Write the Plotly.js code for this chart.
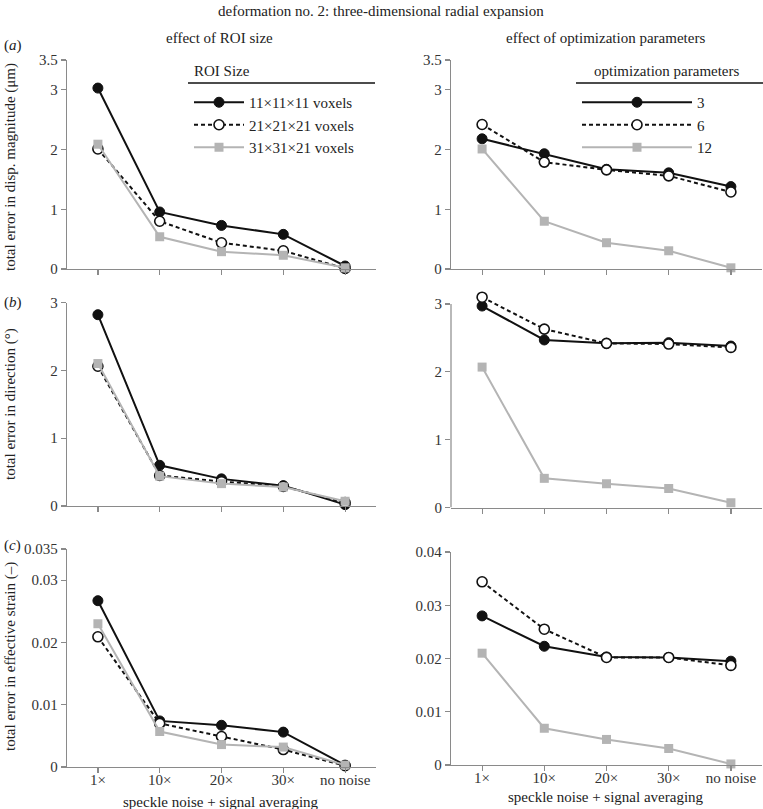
<!DOCTYPE html>
<html>
<head>
<meta charset="utf-8">
<script src="https://cdn.plot.ly/plotly-3.0.1.min.js"></script>
<style>html,body{margin:0;padding:0;background:#fff;}#chart{width:763px;height:809px;}</style>
</head>
<body>
<div id="chart"></div>
<script>
// ---- data ----
const categories = ["1×", "10×", "20×", "30×", "no noise"];

const roiNames = ["11×11×11 voxels", "21×21×21 voxels", "31×31×21 voxels"];
const optNames = ["3", "6", "12"];

// (a) total error in displacement magnitude (µm)
const roiA_11 = [3.03, 0.955, 0.73, 0.58, 0.05];
const roiA_21 = [2.01, 0.80, 0.44, 0.305, 0.01];
const roiA_31 = [2.09, 0.54, 0.29, 0.23, 0.02];
const optA_3  = [2.18, 1.93, 1.67, 1.61, 1.38];
const optA_6  = [2.42, 1.79, 1.66, 1.56, 1.29];
const optA_12 = [2.01, 0.80, 0.44, 0.305, 0.02];

// (b) total error in direction (deg)
const roiB_11 = [2.82, 0.60, 0.40, 0.30, 0.02];
const roiB_21 = [2.06, 0.45, 0.36, 0.29, 0.05];
const roiB_31 = [2.10, 0.44, 0.33, 0.28, 0.07];
const optB_3  = [2.97, 2.47, 2.42, 2.43, 2.38];
const optB_6  = [3.10, 2.63, 2.42, 2.41, 2.36];
const optB_12 = [2.07, 0.43, 0.35, 0.28, 0.07];

// (c) total error in effective strain (-)
const roiC_11 = [0.0267, 0.0074, 0.0067, 0.0056, 0.0003];
const roiC_21 = [0.0209, 0.0070, 0.0049, 0.0028, 0.0002];
const roiC_31 = [0.0230, 0.0057, 0.0036, 0.0032, 0.0003];
const optC_3  = [0.0280, 0.0223, 0.0203, 0.0202, 0.0195];
const optC_6  = [0.0344, 0.0255, 0.0202, 0.0202, 0.0187];
const optC_12 = [0.0210, 0.0069, 0.0048, 0.0031, 0.0002];

// ---- styles ----
const FONT = "Liberation Serif";
const GREY = "#b4b4b4";
const AX = "#8a8a8a";
const W = 763, H = 809;
const px = v => v / W;
const py = v => 1 - v / H;

const styles = [
  {line: {color: "#111", width: 2}, marker: {symbol: "circle", size: 10, color: "#111", line: {color: "#111", width: 1}}},
  {line: {color: "#111", width: 2, dash: "4px,3px"}, marker: {symbol: "circle", size: 10, color: "#fff", line: {color: "#111", width: 1.6}}},
  {line: {color: GREY, width: 2}, marker: {symbol: "square", size: 9, color: GREY, line: {width: 0}}}
];

function series(xa, ya, ys, names, legend, show) {
  return ys.map((y, i) => ({
    type: "scatter", mode: "lines+markers",
    x: categories, y: y, xaxis: xa, yaxis: ya,
    name: names[i], legend: legend, showlegend: show,
    line: styles[i].line, marker: styles[i].marker,
    cliponaxis: false
  }));
}

const data = [].concat(
  series("x", "y", [roiA_11, roiA_21, roiA_31], roiNames, "legend", true),
  series("x2", "y2", [optA_3, optA_6, optA_12], optNames, "legend2", true),
  series("x3", "y3", [roiB_11, roiB_21, roiB_31], roiNames, "legend", false),
  series("x4", "y4", [optB_3, optB_6, optB_12], optNames, "legend2", false),
  series("x5", "y5", [roiC_11, roiC_21, roiC_31], roiNames, "legend", false),
  series("x6", "y6", [optC_3, optC_6, optC_12], optNames, "legend2", false)
);

const tickfont = {family: FONT, size: 15, color: "#333"};
function xax(dom, anchor, labels) {
  return {
    domain: dom, anchor: anchor, type: "category", range: [-0.5, 4.5],
    showline: true, linecolor: AX, linewidth: 1.2, ticks: "outside", ticklen: 5, tickcolor: AX, tickwidth: 1.2,
    showgrid: false, zeroline: false, showticklabels: labels, tickfont: tickfont, fixedrange: true,
    ticklabelstandoff: -6
  };
}
function yax(dom, anchor, range, tickvals, showline) {
  return {
    domain: dom, anchor: anchor, range: range, tickvals: tickvals,
    showline: showline, linecolor: AX, linewidth: 1.2, ticks: "outside", ticklen: 5, tickcolor: AX, tickwidth: 1.2,
    showgrid: false, zeroline: false, tickfont: tickfont, fixedrange: true
  };
}

const xL = [px(67), px(376)], xR = [px(451), px(762)];
// row b right: range extended to 3.15 so the top point stays visible; axis line drawn only to 3
const bRtop = 304 - (507.5 - 304) * 0.15 / 3;

function ann(text, x, y, extra) {
  return Object.assign({text: text, x: px(x), y: py(y), xref: "paper", yref: "paper",
    xanchor: "center", yanchor: "middle", showarrow: false,
    font: {family: FONT, size: 15, color: "#222"}}, extra || {});
}

const layout = {
  width: W, height: H,
  margin: {l: 0, r: 0, t: 0, b: 0},
  paper_bgcolor: "#fff", plot_bgcolor: "rgba(0,0,0,0)",
  font: {family: FONT, size: 15, color: "#222"},
  xaxis:  xax(xL, "y", false),
  yaxis:  yax([py(269), py(60)], "x", [0, 3.5], [0, 1, 2, 3, 3.5], true),
  xaxis2: xax(xR, "y2", false),
  yaxis2: yax([py(269), py(60)], "x2", [0, 3.5], [0, 1, 2, 3, 3.5], true),
  xaxis3: xax(xL, "y3", false),
  yaxis3: yax([py(506), py(302.5)], "x3", [0, 3], [0, 1, 2, 3], true),
  xaxis4: xax(xR, "y4", false),
  yaxis4: yax([py(507.5), py(bRtop)], "x4", [0, 3.15], [0, 1, 2, 3], false),
  xaxis5: xax(xL, "y5", true),
  yaxis5: yax([py(767), py(549)], "x5", [0, 0.035], [0, 0.01, 0.02, 0.03, 0.035], true),
  xaxis6: xax(xR, "y6", true),
  yaxis6: yax([py(765), py(552)], "x6", [0, 0.04], [0, 0.01, 0.02, 0.03, 0.04], true),
  legend: {
    x: px(189), y: py(86), xanchor: "left", yanchor: "top",
    bgcolor: "rgba(0,0,0,0)", borderwidth: 0, itemwidth: 50,
    font: {family: FONT, size: 15, color: "#222"}, tracegroupgap: 0, itemclick: false
  },
  legend2: {
    x: px(577), y: py(86), xanchor: "left", yanchor: "top",
    bgcolor: "rgba(0,0,0,0)", borderwidth: 0, itemwidth: 110,
    font: {family: FONT, size: 15, color: "#222"}, tracegroupgap: 0, itemclick: false
  },
  shapes: [
    {type: "line", xref: "paper", yref: "paper", x0: px(188), x1: px(375), y0: py(83), y1: py(83), line: {color: "#111", width: 1.5}},
    {type: "line", xref: "paper", yref: "paper", x0: px(576), x1: px(763), y0: py(83), y1: py(83), line: {color: "#111", width: 1.5}},
    {type: "line", xref: "x4 domain", yref: "y4", x0: 0, x1: 0, y0: 0, y1: 3, line: {color: AX, width: 1.2}}
  ],
  annotations: [
    ann("deformation no. 2: three-dimensional radial expansion", 381, 11),
    ann("effect of ROI size", 220, 38),
    ann("effect of optimization parameters", 605, 38),
    ann("ROI Size", 192, 71, {xanchor: "left"}),
    ann("optimization parameters", 667, 71),
    ann("(<i>a</i>)", 2, 45, {xanchor: "left"}),
    ann("(<i>b</i>)", 2, 302, {xanchor: "left"}),
    ann("(<i>c</i>)", 2, 545, {xanchor: "left"}),
    ann("total error in disp. magnitude (μm)", 10, 167, {textangle: -90}),
    ann("total error in direction (°)", 10, 404, {textangle: -90}),
    ann("total error in effective strain (–)", 10, 657, {textangle: -90}),
    ann("speckle noise + signal averaging", 221, 802),
    ann("speckle noise + signal averaging", 606, 797)
  ]
};

Plotly.newPlot("chart", data, layout, {displayModeBar: false, staticPlot: true});
</script>
</body>
</html>
